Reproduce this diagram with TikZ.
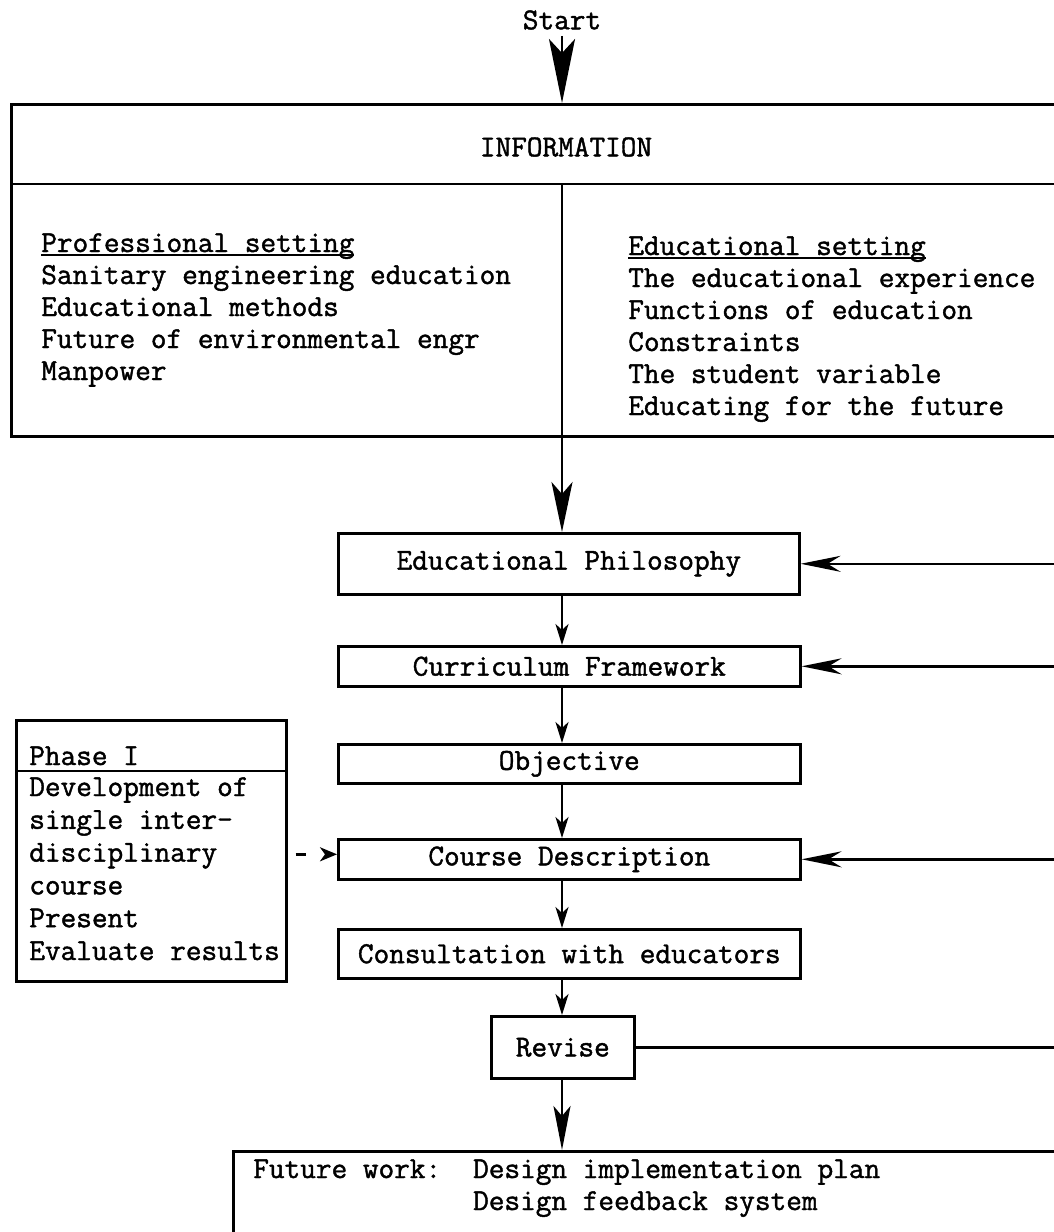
\documentclass[tikz,border=0pt]{standalone}
\usepackage{fontspec}
\setmainfont{Latin Modern Mono}[FakeBold=1.4]
\usetikzlibrary{arrows.meta}

% left-aligned stack of lines whose baseline is the first line's
\newcommand\linestack[1]{\begin{tabular}[t]{@{}l@{}}#1\end{tabular}}
% underline drawn through the descenders, typewriter style
\newcommand\typeul[1]{\setbox0\hbox{#1}\rlap{\rule[-4pt]{\wd0}{2.2pt}}\box0}

\begin{document}
\begin{tikzpicture}[x=1pt,y=-1pt,
  line width=2.6pt,
  every node/.style={font=\fontsize{30.4}{32}\selectfont, inner sep=0pt},
  box/.style={draw, rectangle, anchor=north west, inner sep=0pt},
  txt/.style={anchor=base west, align=left},
  flow/.style={-{Stealth[length=21pt,width=13pt,inset=6pt]}},
  feed/.style={-{Stealth[length=40pt,width=16pt,inset=13pt]}},
  bigflow/.style={-{Stealth[length=50pt,width=21pt,inset=12pt]}},
  endflow/.style={-{Stealth[length=44pt,width=17pt,inset=10pt]}},
  startflow/.style={-{Stealth[length=64pt,width=26pt,inset=14pt]}, shorten <=5pt},
  linkdash/.style={dash pattern=on 10pt off 20pt,
    -{Stealth[length=17pt,width=14pt,inset=5pt]}, shorten <=8pt},
]
\useasboundingbox (0,0) rectangle (1054,1232);
\clip (0,0) rectangle (1054,1232);

% guide positions: the vertical flow line and the feedback rail on the right
\coordinate (spine) at (562,0);
\coordinate (rail)  at (1070,0);

% ---- start and information block ----
\node (start) at (562,20) {Start};

\node[box, minimum width=1080pt, minimum height=332pt] (info) at (10,103) {};
\coordinate (headsep) at (10,184);
\coordinate (colsep) at (562,184);
\draw (headsep) -- (headsep -| rail);
\node (infohead) at (566,147) {INFORMATION};

\node[txt] (prof) at (40,252) {\linestack{%
  \typeul{Professional setting}\\
  Sanitary engineering education\\
  Educational methods\\
  Future of environmental engr\\
  Manpower}};
\node[txt] (educ) at (627,255) {\linestack{%
  \typeul{Educational setting}\\
  The educational experience\\
  Functions of education\\
  Constraints\\
  The student variable\\
  Educating for the future}};

% ---- main sequence of steps ----
\node[box, minimum width=461pt, minimum height=61pt] (phil)    at (337,532) {Educational Philosophy};
\node[box, minimum width=462pt, minimum height=40pt] (curr)    at (337,645) {Curriculum Framework};
\node[box, minimum width=462pt, minimum height=39pt] (obj)     at (337,743) {Objective};
\node[box, minimum width=462pt, minimum height=40pt] (cdesc)   at (337,838) {Course Description};
\node[box, minimum width=462pt, minimum height=49pt] (consult) at (337,928) {Consultation with educators};
\node[box, minimum width=143pt, minimum height=62pt] (revise)  at (490,1015) {Revise};
\node[box, minimum width=900pt, minimum height=200pt] (future) at (232,1150) {};
\node[txt] (futtext) at (252,1178) {%
  \begin{tabular}[t]{@{}l@{\hspace{32pt}}l@{}}
  Future work: & Design implementation plan\\
               & Design feedback system
  \end{tabular}};

% ---- phase I side box ----
\node[box, minimum width=270pt, minimum height=261pt] (phase) at (15,719) {};
\coordinate (phasesep) at (15,771);
\draw (phasesep) -- (phasesep -| phase.east);
\node[txt] (phasehead) at (28,765) {Phase I};
\node[txt, font=\fontsize{30.4}{32.8}\selectfont] (phasebody) at (28,796) {\linestack{%
  Development of\\
  single inter-\\
  disciplinary\\
  course\\
  Present\\
  Evaluate results}};

% ---- connectors ----
\draw[startflow] (start.south -| spine) -- (info.north -| spine);
\draw[bigflow] (colsep) -- (phil.north -| spine);
\draw[flow] (phil.south -| spine) -- (curr.north -| spine);
\draw[flow] (curr.south -| spine) -- (obj.north -| spine);
\draw[flow] (obj.south -| spine) -- (cdesc.north -| spine);
\draw[flow] (cdesc.south -| spine) -- (consult.north -| spine);
\draw[flow] (consult.south -| spine) -- (revise.north -| spine);
\draw[endflow] (revise.south -| spine) -- (future.north -| spine);

% feedback from the right
\draw[feed] (phil.east -| rail) -- (phil.east);
\draw[feed] (curr.east -| rail) -- (curr.east);
\draw[feed] (cdesc.east -| rail) -- (cdesc.east);
\draw (revise.east) -- (revise.east -| rail);

% dashed link from phase I
\coordinate (dashin) at ([yshift=5pt]cdesc.west);
\draw[linkdash] (dashin -| phase.east) -- (dashin);
\end{tikzpicture}
\end{document}
